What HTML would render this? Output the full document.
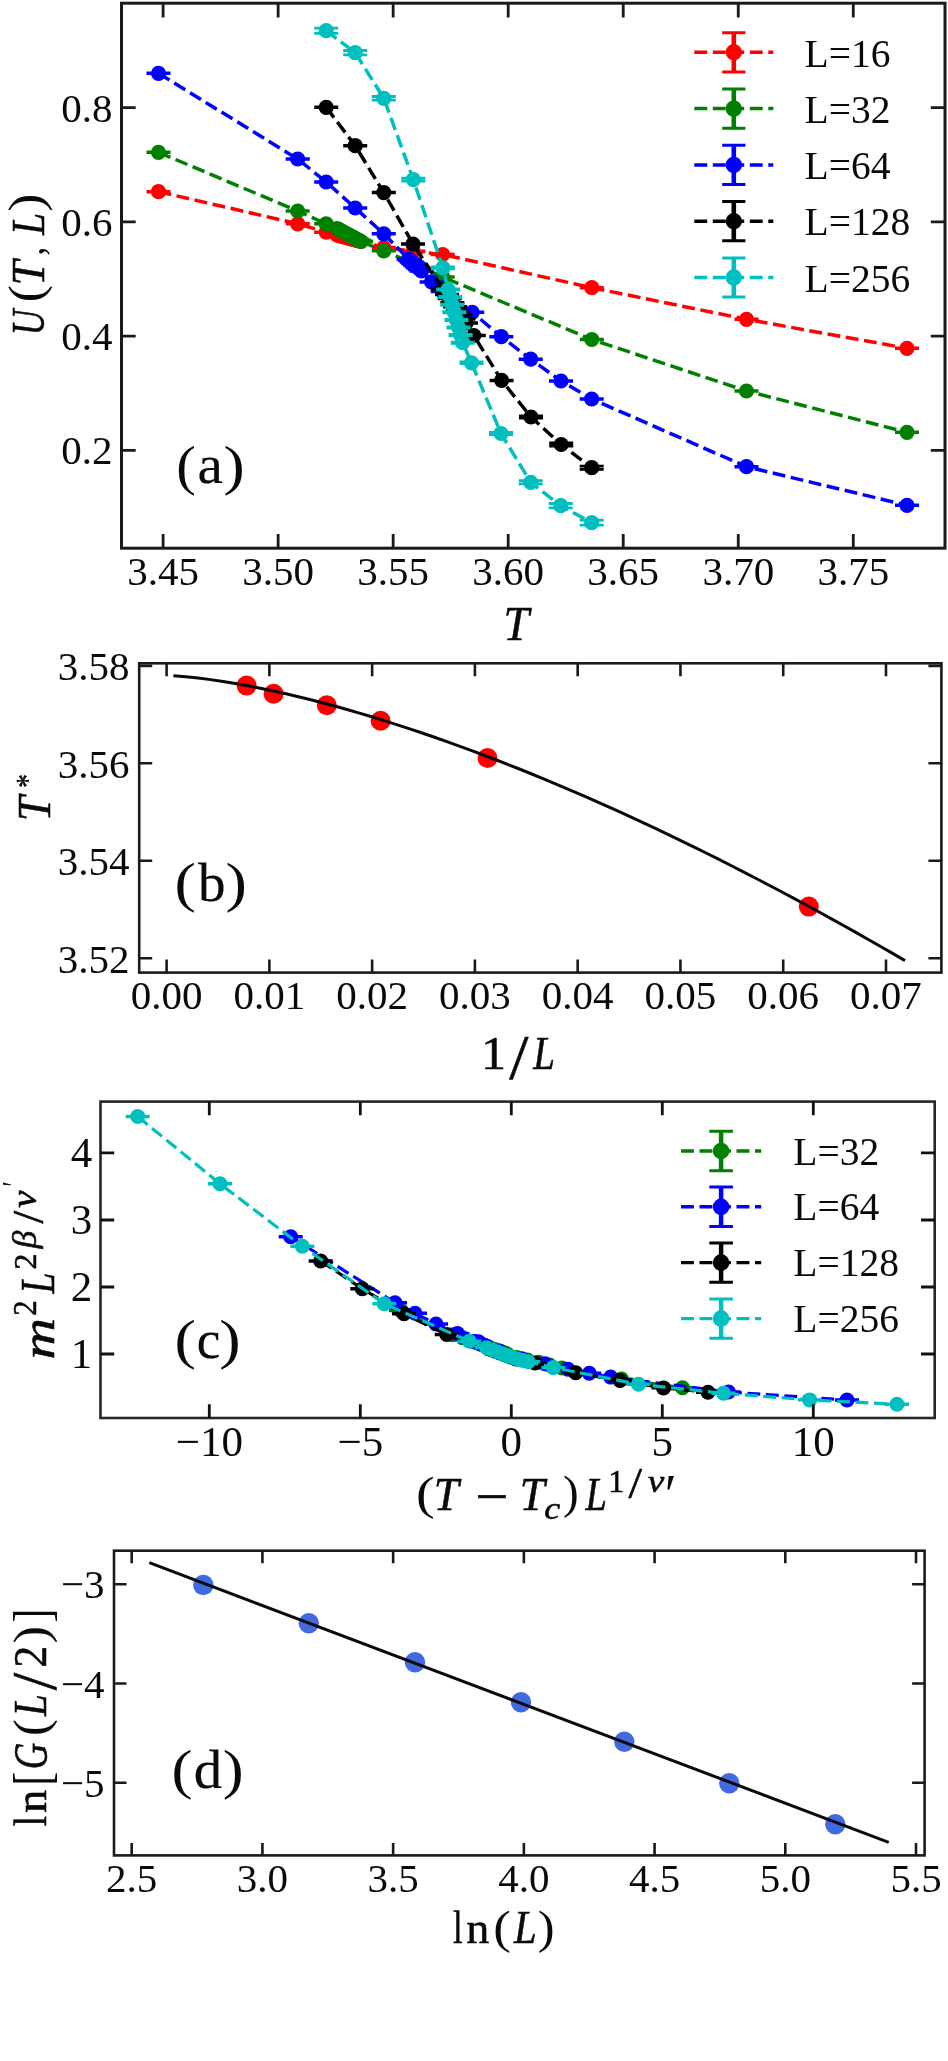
<!DOCTYPE html>
<html><head><meta charset="utf-8"><title>Figure</title>
<style>html,body{margin:0;padding:0;background:#fff;}svg{display:block;filter:blur(0.62px);}text{font-family:"Liberation Serif", serif;fill:#0a0a0a;}</style></head><body>
<svg width="948" height="2061" viewBox="0 0 948 2061">
<rect x="0" y="0" width="948" height="2061" fill="#ffffff"/>
<g id="pa">
<path d="M158.5 191.7L297.7 223.8L326.2 232.2L337 235L339.18 235.59L341.36 236.18L343.55 236.77L345.73 237.36L347.91 237.95L350.09 238.55L352.27 239.14L354.45 239.73L356.64 240.32L358.82 240.91L361 241.5L383.8 247.5L413.3 251.3L442.7 254.5L591.8 287.7L746.5 319.3L907 348.3" fill="none" stroke="#ff0000" stroke-width="3.5" stroke-dasharray="12.9 5.6"/>
<path d="M146.5 191.35H170.5M146.5 192.05H170.5M285.7 223.45H309.7M285.7 224.15H309.7M314.2 231.85H338.2M314.2 232.55H338.2M325 234.65H349M325 235.35H349M327.18 235.24H351.18M327.18 235.94H351.18M329.36 235.83H353.36M329.36 236.53H353.36M331.55 236.42H355.55M331.55 237.12H355.55M333.73 237.01H357.73M333.73 237.71H357.73M335.91 237.6H359.91M335.91 238.3H359.91M338.09 238.2H362.09M338.09 238.9H362.09M340.27 238.79H364.27M340.27 239.49H364.27M342.45 239.38H366.45M342.45 240.08H366.45M344.64 239.97H368.64M344.64 240.67H368.64M346.82 240.56H370.82M346.82 241.26H370.82M349 241.15H373M349 241.85H373M371.8 247.15H395.8M371.8 247.85H395.8M401.3 250.95H425.3M401.3 251.65H425.3M430.7 254.15H454.7M430.7 254.85H454.7M579.8 287.35H603.8M579.8 288.05H603.8M734.5 318.95H758.5M734.5 319.65H758.5M895 347.95H919M895 348.65H919" fill="none" stroke="#ff0000" stroke-width="2.8"/>
<g fill="#ff0000"><circle cx="158.5" cy="191.7" r="7.6"/><circle cx="297.7" cy="223.8" r="7.6"/><circle cx="326.2" cy="232.2" r="7.6"/><circle cx="337" cy="235" r="7.6"/><circle cx="339.18" cy="235.59" r="7.6"/><circle cx="341.36" cy="236.18" r="7.6"/><circle cx="343.55" cy="236.77" r="7.6"/><circle cx="345.73" cy="237.36" r="7.6"/><circle cx="347.91" cy="237.95" r="7.6"/><circle cx="350.09" cy="238.55" r="7.6"/><circle cx="352.27" cy="239.14" r="7.6"/><circle cx="354.45" cy="239.73" r="7.6"/><circle cx="356.64" cy="240.32" r="7.6"/><circle cx="358.82" cy="240.91" r="7.6"/><circle cx="361" cy="241.5" r="7.6"/><circle cx="383.8" cy="247.5" r="7.6"/><circle cx="413.3" cy="251.3" r="7.6"/><circle cx="442.7" cy="254.5" r="7.6"/><circle cx="591.8" cy="287.7" r="7.6"/><circle cx="746.5" cy="319.3" r="7.6"/><circle cx="907" cy="348.3" r="7.6"/></g>
<path d="M158.5 152.3L297.7 211L326.2 223.8L337 228.5L339.18 229.68L341.36 230.86L343.55 232.05L345.73 233.23L347.91 234.41L350.09 235.59L352.27 236.77L354.45 237.95L356.64 239.14L358.82 240.32L361 241.5L383.8 250.8L413.3 263.5L442.7 277L591.8 339.5L746.5 391L907 432.3" fill="none" stroke="#008000" stroke-width="3.5" stroke-dasharray="12.9 5.6"/>
<path d="M146.5 151.95H170.5M146.5 152.65H170.5M285.7 210.65H309.7M285.7 211.35H309.7M314.2 223.45H338.2M314.2 224.15H338.2M325 228.15H349M325 228.85H349M327.18 229.33H351.18M327.18 230.03H351.18M329.36 230.51H353.36M329.36 231.21H353.36M331.55 231.7H355.55M331.55 232.4H355.55M333.73 232.88H357.73M333.73 233.58H357.73M335.91 234.06H359.91M335.91 234.76H359.91M338.09 235.24H362.09M338.09 235.94H362.09M340.27 236.42H364.27M340.27 237.12H364.27M342.45 237.6H366.45M342.45 238.3H366.45M344.64 238.79H368.64M344.64 239.49H368.64M346.82 239.97H370.82M346.82 240.67H370.82M349 241.15H373M349 241.85H373M371.8 250.45H395.8M371.8 251.15H395.8M401.3 263.15H425.3M401.3 263.85H425.3M430.7 276.65H454.7M430.7 277.35H454.7M579.8 339.15H603.8M579.8 339.85H603.8M734.5 390.65H758.5M734.5 391.35H758.5M895 431.95H919M895 432.65H919" fill="none" stroke="#008000" stroke-width="2.8"/>
<g fill="#008000"><circle cx="158.5" cy="152.3" r="7.6"/><circle cx="297.7" cy="211" r="7.6"/><circle cx="326.2" cy="223.8" r="7.6"/><circle cx="337" cy="228.5" r="7.6"/><circle cx="339.18" cy="229.68" r="7.6"/><circle cx="341.36" cy="230.86" r="7.6"/><circle cx="343.55" cy="232.05" r="7.6"/><circle cx="345.73" cy="233.23" r="7.6"/><circle cx="347.91" cy="234.41" r="7.6"/><circle cx="350.09" cy="235.59" r="7.6"/><circle cx="352.27" cy="236.77" r="7.6"/><circle cx="354.45" cy="237.95" r="7.6"/><circle cx="356.64" cy="239.14" r="7.6"/><circle cx="358.82" cy="240.32" r="7.6"/><circle cx="361" cy="241.5" r="7.6"/><circle cx="383.8" cy="250.8" r="7.6"/><circle cx="413.3" cy="263.5" r="7.6"/><circle cx="442.7" cy="277" r="7.6"/><circle cx="591.8" cy="339.5" r="7.6"/><circle cx="746.5" cy="391" r="7.6"/><circle cx="907" cy="432.3" r="7.6"/></g>
<path d="M158.5 73.3L297.7 159L326.2 182L355.2 208L383.8 233.8L408.5 259L410.12 260.5L411.75 262L413.38 263.5L415 265L416.62 266.5L418.25 268L419.88 269.5L421.5 271L431.6 281.9L442.7 291.5L472.2 312.3L501.3 336.7L530.7 359.2L561 381L591.7 399L746.5 466.7L907 505.3" fill="none" stroke="#0000ff" stroke-width="3.5" stroke-dasharray="12.9 5.6"/>
<path d="M146.5 72.95H170.5M146.5 73.65H170.5M285.7 158.65H309.7M285.7 159.35H309.7M314.2 181.65H338.2M314.2 182.35H338.2M343.2 207.65H367.2M343.2 208.35H367.2M371.8 233.45H395.8M371.8 234.15H395.8M396.5 258.65H420.5M396.5 259.35H420.5M398.12 260.15H422.12M398.12 260.85H422.12M399.75 261.65H423.75M399.75 262.35H423.75M401.38 263.15H425.38M401.38 263.85H425.38M403 264.65H427M403 265.35H427M404.62 266.15H428.62M404.62 266.85H428.62M406.25 267.65H430.25M406.25 268.35H430.25M407.88 269.15H431.88M407.88 269.85H431.88M409.5 270.65H433.5M409.5 271.35H433.5M419.6 281.55H443.6M419.6 282.25H443.6M430.7 291.15H454.7M430.7 291.85H454.7M460.2 311.95H484.2M460.2 312.65H484.2M489.3 336.35H513.3M489.3 337.05H513.3M518.7 358.85H542.7M518.7 359.55H542.7M549 380.65H573M549 381.35H573M579.7 398.65H603.7M579.7 399.35H603.7M734.5 466.35H758.5M734.5 467.05H758.5M895 504.95H919M895 505.65H919" fill="none" stroke="#0000ff" stroke-width="2.8"/>
<g fill="#0000ff"><circle cx="158.5" cy="73.3" r="7.6"/><circle cx="297.7" cy="159" r="7.6"/><circle cx="326.2" cy="182" r="7.6"/><circle cx="355.2" cy="208" r="7.6"/><circle cx="383.8" cy="233.8" r="7.6"/><circle cx="408.5" cy="259" r="7.6"/><circle cx="410.12" cy="260.5" r="7.6"/><circle cx="411.75" cy="262" r="7.6"/><circle cx="413.38" cy="263.5" r="7.6"/><circle cx="415" cy="265" r="7.6"/><circle cx="416.62" cy="266.5" r="7.6"/><circle cx="418.25" cy="268" r="7.6"/><circle cx="419.88" cy="269.5" r="7.6"/><circle cx="421.5" cy="271" r="7.6"/><circle cx="431.6" cy="281.9" r="7.6"/><circle cx="442.7" cy="291.5" r="7.6"/><circle cx="472.2" cy="312.3" r="7.6"/><circle cx="501.3" cy="336.7" r="7.6"/><circle cx="530.7" cy="359.2" r="7.6"/><circle cx="561" cy="381" r="7.6"/><circle cx="591.7" cy="399" r="7.6"/><circle cx="746.5" cy="466.7" r="7.6"/><circle cx="907" cy="505.3" r="7.6"/></g>
<path d="M326.2 107.3L355.2 145.7L383.8 192.6L413 244L442.7 289L447 294.5L449.71 298.57L452.43 302.64L455.14 306.71L457.86 310.79L460.57 314.86L463.29 318.93L466 323L473.8 335.5L501.6 380.4L531 417L561.2 444.5L591.7 467.7" fill="none" stroke="#000000" stroke-width="3.5" stroke-dasharray="12.9 5.6"/>
<path d="M314.2 106.95H338.2M314.2 107.65H338.2M343.2 145.35H367.2M343.2 146.05H367.2M371.8 192.25H395.8M371.8 192.95H395.8M401 243.65H425M401 244.35H425M430.7 288.65H454.7M430.7 289.35H454.7M435 294.15H459M435 294.85H459M437.71 298.22H461.71M437.71 298.92H461.71M440.43 302.29H464.43M440.43 302.99H464.43M443.14 306.36H467.14M443.14 307.06H467.14M445.86 310.44H469.86M445.86 311.14H469.86M448.57 314.51H472.57M448.57 315.21H472.57M451.29 318.58H475.29M451.29 319.28H475.29M454 322.65H478M454 323.35H478M461.8 335.15H485.8M461.8 335.85H485.8M489.6 380.05H513.6M489.6 380.75H513.6M519 415.8H543M519 418.2H543M549.2 443H573.2M549.2 446H573.2M579.7 466.1H603.7M579.7 469.3H603.7" fill="none" stroke="#000000" stroke-width="2.8"/>
<g fill="#000000"><circle cx="326.2" cy="107.3" r="7.6"/><circle cx="355.2" cy="145.7" r="7.6"/><circle cx="383.8" cy="192.6" r="7.6"/><circle cx="413" cy="244" r="7.6"/><circle cx="442.7" cy="289" r="7.6"/><circle cx="447" cy="294.5" r="7.6"/><circle cx="449.71" cy="298.57" r="7.6"/><circle cx="452.43" cy="302.64" r="7.6"/><circle cx="455.14" cy="306.71" r="7.6"/><circle cx="457.86" cy="310.79" r="7.6"/><circle cx="460.57" cy="314.86" r="7.6"/><circle cx="463.29" cy="318.93" r="7.6"/><circle cx="466" cy="323" r="7.6"/><circle cx="473.8" cy="335.5" r="7.6"/><circle cx="501.6" cy="380.4" r="7.6"/><circle cx="531" cy="417" r="7.6"/><circle cx="561.2" cy="444.5" r="7.6"/><circle cx="591.7" cy="467.7" r="7.6"/></g>
<path d="M326.2 30.7L355.2 52.7L383.8 98.3L413.3 179.6L442.9 267.8L448.1 289.5L450.19 297.1L452.27 304.7L454.36 312.3L456.44 319.9L458.53 327.5L460.61 335.1L462.7 342.7L471.5 362.8L501 433.5L530.7 482.3L560.7 505.7L591.7 522.7" fill="none" stroke="#00bfbf" stroke-width="3.5" stroke-dasharray="12.9 5.6"/>
<path d="M314.2 28.1H338.2M314.2 33.3H338.2M343.2 50.5H367.2M343.2 54.9H367.2M371.8 96.5H395.8M371.8 100.1H395.8M401.3 178.1H425.3M401.3 181.1H425.3M430.9 266.8H454.9M430.9 268.8H454.9M436.1 288.9H460.1M436.1 290.1H460.1M438.19 296.5H462.19M438.19 297.7H462.19M440.27 304.1H464.27M440.27 305.3H464.27M442.36 311.7H466.36M442.36 312.9H466.36M444.44 319.3H468.44M444.44 320.5H468.44M446.53 326.9H470.53M446.53 328.1H470.53M448.61 334.5H472.61M448.61 335.7H472.61M450.7 342.1H474.7M450.7 343.3H474.7M459.5 362H483.5M459.5 363.6H483.5M489 432.5H513M489 434.5H513M518.7 480.7H542.7M518.7 483.9H542.7M548.7 503.5H572.7M548.7 507.9H572.7M579.7 520.2H603.7M579.7 525.2H603.7" fill="none" stroke="#00bfbf" stroke-width="2.8"/>
<g fill="#00bfbf"><circle cx="326.2" cy="30.7" r="7.6"/><circle cx="355.2" cy="52.7" r="7.6"/><circle cx="383.8" cy="98.3" r="7.6"/><circle cx="413.3" cy="179.6" r="7.6"/><circle cx="442.9" cy="267.8" r="7.6"/><circle cx="448.1" cy="289.5" r="7.6"/><circle cx="450.19" cy="297.1" r="7.6"/><circle cx="452.27" cy="304.7" r="7.6"/><circle cx="454.36" cy="312.3" r="7.6"/><circle cx="456.44" cy="319.9" r="7.6"/><circle cx="458.53" cy="327.5" r="7.6"/><circle cx="460.61" cy="335.1" r="7.6"/><circle cx="462.7" cy="342.7" r="7.6"/><circle cx="471.5" cy="362.8" r="7.6"/><circle cx="501" cy="433.5" r="7.6"/><circle cx="530.7" cy="482.3" r="7.6"/><circle cx="560.7" cy="505.7" r="7.6"/><circle cx="591.7" cy="522.7" r="7.6"/></g>
<rect x="121.5" y="3.2" width="823.5" height="545" fill="none" stroke="#1a1a1a" stroke-width="3"/>
<path d="M163.1 548.2V534M163.1 3.2V17.4M278.13 548.2V534M278.13 3.2V17.4M393.16 548.2V534M393.16 3.2V17.4M508.19 548.2V534M508.19 3.2V17.4M623.22 548.2V534M623.22 3.2V17.4M738.25 548.2V534M738.25 3.2V17.4M853.28 548.2V534M853.28 3.2V17.4M121.5 107.7H135.7M945 107.7H930.8M121.5 221.9H135.7M945 221.9H930.8M121.5 336.1H135.7M945 336.1H930.8M121.5 450.3H135.7M945 450.3H930.8" stroke="#1a1a1a" stroke-width="2.8" fill="none"/>
<text x="163.1" y="585" text-anchor="middle" style="font-size:41px;" >3.45</text>
<text x="278.13" y="585" text-anchor="middle" style="font-size:41px;" >3.50</text>
<text x="393.16" y="585" text-anchor="middle" style="font-size:41px;" >3.55</text>
<text x="508.19" y="585" text-anchor="middle" style="font-size:41px;" >3.60</text>
<text x="623.22" y="585" text-anchor="middle" style="font-size:41px;" >3.65</text>
<text x="738.25" y="585" text-anchor="middle" style="font-size:41px;" >3.70</text>
<text x="853.28" y="585" text-anchor="middle" style="font-size:41px;" >3.75</text>
<text x="112.5" y="121.7" text-anchor="end" style="font-size:41px;" >0.8</text>
<text x="112.5" y="235.9" text-anchor="end" style="font-size:41px;" >0.6</text>
<text x="112.5" y="350.1" text-anchor="end" style="font-size:41px;" >0.4</text>
<text x="112.5" y="464.3" text-anchor="end" style="font-size:41px;" >0.2</text>
<path d="M694.3 52.3H773.3" stroke="#ff0000" stroke-width="3.5" stroke-dasharray="12.9 5.6" fill="none"/>
<path d="M733.8 32.7V71.9" stroke="#ff0000" stroke-width="4.6" fill="none"/>
<path d="M722.2 32.7H745.4M722.2 71.9H745.4" stroke="#ff0000" stroke-width="3.0" fill="none"/>
<circle cx="733.8" cy="52.3" r="8.2" fill="#ff0000"/>
<text x="804.5" y="66.5" text-anchor="start" style="font-size:39.5px;" >L=16</text>
<path d="M694.3 108.6H773.3" stroke="#008000" stroke-width="3.5" stroke-dasharray="12.9 5.6" fill="none"/>
<path d="M733.8 89V128.2" stroke="#008000" stroke-width="4.6" fill="none"/>
<path d="M722.2 89H745.4M722.2 128.2H745.4" stroke="#008000" stroke-width="3.0" fill="none"/>
<circle cx="733.8" cy="108.6" r="8.2" fill="#008000"/>
<text x="804.5" y="122.8" text-anchor="start" style="font-size:39.5px;" >L=32</text>
<path d="M694.3 164.9H773.3" stroke="#0000ff" stroke-width="3.5" stroke-dasharray="12.9 5.6" fill="none"/>
<path d="M733.8 145.3V184.5" stroke="#0000ff" stroke-width="4.6" fill="none"/>
<path d="M722.2 145.3H745.4M722.2 184.5H745.4" stroke="#0000ff" stroke-width="3.0" fill="none"/>
<circle cx="733.8" cy="164.9" r="8.2" fill="#0000ff"/>
<text x="804.5" y="179.1" text-anchor="start" style="font-size:39.5px;" >L=64</text>
<path d="M694.3 221.2H773.3" stroke="#000000" stroke-width="3.5" stroke-dasharray="12.9 5.6" fill="none"/>
<path d="M733.8 201.6V240.8" stroke="#000000" stroke-width="4.6" fill="none"/>
<path d="M722.2 201.6H745.4M722.2 240.8H745.4" stroke="#000000" stroke-width="3.0" fill="none"/>
<circle cx="733.8" cy="221.2" r="8.2" fill="#000000"/>
<text x="804.5" y="235.4" text-anchor="start" style="font-size:39.5px;" >L=128</text>
<path d="M694.3 277.5H773.3" stroke="#00bfbf" stroke-width="3.5" stroke-dasharray="12.9 5.6" fill="none"/>
<path d="M733.8 257.9V297.1" stroke="#00bfbf" stroke-width="4.6" fill="none"/>
<path d="M722.2 257.9H745.4M722.2 297.1H745.4" stroke="#00bfbf" stroke-width="3.0" fill="none"/>
<circle cx="733.8" cy="277.5" r="8.2" fill="#00bfbf"/>
<text x="804.5" y="291.7" text-anchor="start" style="font-size:39.5px;" >L=256</text>
<text transform="translate(176.22,483.66) scale(1.0662,1)" style="font-size:55.14px;font-style:normal;stroke:#0a0a0a;stroke-width:0px;stroke-linejoin:round">(</text><text transform="translate(197.39,483.46) scale(1.0341,1)" style="font-size:55.32px;font-style:normal;stroke:#0a0a0a;stroke-width:0.2px;stroke-linejoin:round">a</text><text transform="translate(223.44,483.66) scale(1.1580,1)" style="font-size:55.14px;font-style:normal;stroke:#0a0a0a;stroke-width:0px;stroke-linejoin:round">)</text>
<text transform="translate(503.4,639.9) scale(0.9650,1)" style="font-size:47.50px;font-style:italic;stroke:#0a0a0a;stroke-width:0.55px;stroke-linejoin:round">T</text>
<g transform="translate(44.2,332.8) rotate(-90)"><text transform="translate(-2.55,-0.66) scale(0.7506,1)" style="font-size:47.10px;font-style:italic;stroke:#0a0a0a;stroke-width:0.55px;stroke-linejoin:round">U</text><text transform="translate(30.62,-2.27) scale(1.0844,1)" style="font-size:47.75px;font-style:normal;stroke:#0a0a0a;stroke-width:0px;stroke-linejoin:round">(</text><text transform="translate(47.37,-0.7) scale(0.9512,1)" style="font-size:47.04px;font-style:italic;stroke:#0a0a0a;stroke-width:0.55px;stroke-linejoin:round">T</text><text transform="translate(77.37,-1.25) scale(0.8460,1)" style="font-size:41.27px;font-style:normal;stroke:#0a0a0a;stroke-width:0px;stroke-linejoin:round">,</text><text transform="translate(97.77,-0.7) scale(0.8455,1)" style="font-size:47.04px;font-style:italic;stroke:#0a0a0a;stroke-width:0.55px;stroke-linejoin:round">L</text><text transform="translate(121.13,-2.27) scale(1.1496,1)" style="font-size:47.75px;font-style:normal;stroke:#0a0a0a;stroke-width:0px;stroke-linejoin:round">)</text></g>
</g>
<g id="pb">
<g fill="#ff0000"><circle cx="246.6" cy="685.6" r="10"/><circle cx="273.6" cy="693.7" r="10"/><circle cx="326.8" cy="705.3" r="10"/><circle cx="380.6" cy="720.8" r="10"/><circle cx="487.5" cy="758" r="10"/><circle cx="808.8" cy="906.6" r="10"/></g>
<path d="M173.38 675.83L185.78 676.75L198.18 678.04L210.58 679.62L222.98 681.46L235.38 683.51L247.78 685.76L260.19 688.19L272.59 690.79L284.99 693.56L297.39 696.47L309.79 699.53L322.19 702.73L334.59 706.07L346.99 709.52L359.39 713.11L371.79 716.81L384.19 720.63L396.59 724.56L408.99 728.6L421.39 732.75L433.79 737L446.19 741.35L458.59 745.81L470.99 750.36L483.39 755.01L495.79 759.75L508.19 764.58L520.59 769.5L532.99 774.51L545.39 779.61L557.79 784.79L570.19 790.06L582.59 795.42L594.99 800.85L607.39 806.36L619.79 811.96L632.2 817.63L644.6 823.38L657 829.21L669.4 835.11L681.8 841.09L694.2 847.14L706.6 853.27L719 859.46L731.4 865.73L743.8 872.07L756.2 878.48L768.6 884.96L781 891.5L793.4 898.12L805.8 904.8L818.2 911.55L830.6 918.36L843 925.24L855.4 932.18L867.8 939.19L880.2 946.26L892.6 953.39L905 960.59" fill="none" stroke="#0a0a0a" stroke-width="3"/>
<rect x="139.2" y="663.3" width="802.2" height="309.3" fill="none" stroke="#1a1a1a" stroke-width="2.6"/>
<path d="M166.6 972.6V959.6M166.6 663.3V676.3M269.37 972.6V959.6M269.37 663.3V676.3M372.14 972.6V959.6M372.14 663.3V676.3M474.91 972.6V959.6M474.91 663.3V676.3M577.68 972.6V959.6M577.68 663.3V676.3M680.45 972.6V959.6M680.45 663.3V676.3M783.22 972.6V959.6M783.22 663.3V676.3M885.99 972.6V959.6M885.99 663.3V676.3M139.2 665.85H152.2M941.4 665.85H928.4M139.2 763.3H152.2M941.4 763.3H928.4M139.2 860.75H152.2M941.4 860.75H928.4M139.2 958.2H152.2M941.4 958.2H928.4" stroke="#1a1a1a" stroke-width="2.6" fill="none"/>
<text x="166.6" y="1009.3" text-anchor="middle" style="font-size:41px;" >0.00</text>
<text x="269.37" y="1009.3" text-anchor="middle" style="font-size:41px;" >0.01</text>
<text x="372.14" y="1009.3" text-anchor="middle" style="font-size:41px;" >0.02</text>
<text x="474.91" y="1009.3" text-anchor="middle" style="font-size:41px;" >0.03</text>
<text x="577.68" y="1009.3" text-anchor="middle" style="font-size:41px;" >0.04</text>
<text x="680.45" y="1009.3" text-anchor="middle" style="font-size:41px;" >0.05</text>
<text x="783.22" y="1009.3" text-anchor="middle" style="font-size:41px;" >0.06</text>
<text x="885.99" y="1009.3" text-anchor="middle" style="font-size:41px;" >0.07</text>
<text x="129.5" y="680.35" text-anchor="end" style="font-size:41px;" >3.58</text>
<text x="129.5" y="777.8" text-anchor="end" style="font-size:41px;" >3.56</text>
<text x="129.5" y="875.25" text-anchor="end" style="font-size:41px;" >3.54</text>
<text x="129.5" y="972.7" text-anchor="end" style="font-size:41px;" >3.52</text>
<text transform="translate(174.58,901.25) scale(1.1744,1)" style="font-size:54.70px;font-style:normal;stroke:#0a0a0a;stroke-width:0px;stroke-linejoin:round">(</text><text transform="translate(198,901.17) scale(1.0128,1)" style="font-size:54.29px;font-style:normal;stroke:#0a0a0a;stroke-width:0.2px;stroke-linejoin:round">b</text><text transform="translate(225.43,901.25) scale(1.1744,1)" style="font-size:54.70px;font-style:normal;stroke:#0a0a0a;stroke-width:0px;stroke-linejoin:round">)</text>
<text transform="translate(481.11,1069.1) scale(1.0750,1)" style="font-size:46.50px;font-style:normal;stroke:#0a0a0a;stroke-width:0.55px;stroke-linejoin:round">1</text><text transform="translate(509.2,1078.58) scale(1.0903,1)" style="font-size:63.38px;font-style:normal;stroke:#0a0a0a;stroke-width:0.55px;stroke-linejoin:round">/</text><text transform="translate(533.36,1069.1) scale(0.8456,1)" style="font-size:46.12px;font-style:italic;stroke:#0a0a0a;stroke-width:0.55px;stroke-linejoin:round">L</text>
<g transform="translate(50.7,819.1) rotate(-90)"><text transform="translate(-2.26,-0.7) scale(0.9566,1)" style="font-size:47.34px;font-style:italic;stroke:#0a0a0a;stroke-width:0.55px;stroke-linejoin:round">T</text><text transform="translate(31.27,-12.95) scale(0.8404,1)" style="font-size:32.45px;font-style:normal;stroke:#0a0a0a;stroke-width:0.55px;stroke-linejoin:round">*</text></g>
</g>
<g id="pc">
<path d="M401 1310.61L452.6 1334.63L463 1337.85L473.6 1341.41L484.2 1345.37L495 1349.42L498 1350.54L501 1351.67L504 1352.79L507 1353.92L505.7 1353.43L516.5 1357.42L527.5 1360.1L538.5 1362.17L549.6 1365.07L562 1367.96L621.5 1379.12L682.5 1387.8" fill="none" stroke="#008000" stroke-width="3.2" stroke-dasharray="12.9 5.6"/>
<path d="M389 1310.26H413M389 1310.96H413M440.6 1334.28H464.6M440.6 1334.98H464.6M451 1337.5H475M451 1338.2H475M461.6 1341.06H485.6M461.6 1341.76H485.6M472.2 1345.02H496.2M472.2 1345.72H496.2M483 1349.07H507M483 1349.77H507M486 1350.19H510M486 1350.89H510M489 1351.32H513M489 1352.02H513M492 1352.44H516M492 1353.14H516M495 1353.57H519M495 1354.27H519M493.7 1353.08H517.7M493.7 1353.78H517.7M504.5 1357.07H528.5M504.5 1357.77H528.5M515.5 1359.75H539.5M515.5 1360.45H539.5M526.5 1361.83H550.5M526.5 1362.52H550.5M537.6 1364.72H561.6M537.6 1365.42H561.6M550 1367.61H574M550 1368.31H574M609.5 1378.77H633.5M609.5 1379.47H633.5M670.5 1387.45H694.5M670.5 1388.15H694.5" fill="none" stroke="#008000" stroke-width="2.7"/>
<g fill="#008000"><circle cx="401" cy="1310.61" r="7.5"/><circle cx="452.6" cy="1334.63" r="7.5"/><circle cx="463" cy="1337.85" r="7.5"/><circle cx="473.6" cy="1341.41" r="7.5"/><circle cx="484.2" cy="1345.37" r="7.5"/><circle cx="495" cy="1349.42" r="7.5"/><circle cx="498" cy="1350.54" r="7.5"/><circle cx="501" cy="1351.67" r="7.5"/><circle cx="504" cy="1352.79" r="7.5"/><circle cx="507" cy="1353.92" r="7.5"/><circle cx="505.7" cy="1353.43" r="7.5"/><circle cx="516.5" cy="1357.42" r="7.5"/><circle cx="527.5" cy="1360.1" r="7.5"/><circle cx="538.5" cy="1362.17" r="7.5"/><circle cx="549.6" cy="1365.07" r="7.5"/><circle cx="562" cy="1367.96" r="7.5"/><circle cx="621.5" cy="1379.12" r="7.5"/><circle cx="682.5" cy="1387.8" r="7.5"/></g>
<path d="M290.7 1236.7L395 1302.7L415 1313.3L436 1324L457.5 1333.6L478.5 1341.8L474 1341.56L476 1342.3L478 1343.05L480 1343.8L482 1344.54L484 1345.29L486 1346.04L488 1346.79L500 1351.29L522 1358.76L545 1363.8L568 1369.24L589.3 1373.3L610.7 1377.1L728.5 1392L847 1400" fill="none" stroke="#0000ff" stroke-width="3.2" stroke-dasharray="12.9 5.6"/>
<path d="M278.7 1236.35H302.7M278.7 1237.05H302.7M383 1302.35H407M383 1303.05H407M403 1312.95H427M403 1313.65H427M424 1323.65H448M424 1324.35H448M445.5 1333.25H469.5M445.5 1333.95H469.5M466.5 1341.45H490.5M466.5 1342.15H490.5M462 1341.21H486M462 1341.91H486M464 1341.95H488M464 1342.65H488M466 1342.7H490M466 1343.4H490M468 1343.45H492M468 1344.15H492M470 1344.19H494M470 1344.89H494M472 1344.94H496M472 1345.64H496M474 1345.69H498M474 1346.39H498M476 1346.44H500M476 1347.14H500M488 1350.94H512M488 1351.64H512M510 1358.41H534M510 1359.11H534M533 1363.45H557M533 1364.15H557M556 1368.89H580M556 1369.59H580M577.3 1372.95H601.3M577.3 1373.65H601.3M598.7 1376.75H622.7M598.7 1377.45H622.7M716.5 1391.65H740.5M716.5 1392.35H740.5M835 1399.65H859M835 1400.35H859" fill="none" stroke="#0000ff" stroke-width="2.7"/>
<g fill="#0000ff"><circle cx="290.7" cy="1236.7" r="7.5"/><circle cx="395" cy="1302.7" r="7.5"/><circle cx="415" cy="1313.3" r="7.5"/><circle cx="436" cy="1324" r="7.5"/><circle cx="457.5" cy="1333.6" r="7.5"/><circle cx="478.5" cy="1341.8" r="7.5"/><circle cx="474" cy="1341.56" r="7.5"/><circle cx="476" cy="1342.3" r="7.5"/><circle cx="478" cy="1343.05" r="7.5"/><circle cx="480" cy="1343.8" r="7.5"/><circle cx="482" cy="1344.54" r="7.5"/><circle cx="484" cy="1345.29" r="7.5"/><circle cx="486" cy="1346.04" r="7.5"/><circle cx="488" cy="1346.79" r="7.5"/><circle cx="500" cy="1351.29" r="7.5"/><circle cx="522" cy="1358.76" r="7.5"/><circle cx="545" cy="1363.8" r="7.5"/><circle cx="568" cy="1369.24" r="7.5"/><circle cx="589.3" cy="1373.3" r="7.5"/><circle cx="610.7" cy="1377.1" r="7.5"/><circle cx="728.5" cy="1392" r="7.5"/><circle cx="847" cy="1400" r="7.5"/></g>
<path d="M320.7 1261L362.3 1288.8L404 1313.8L446.7 1334.5L489 1348.86L492 1349.99L496 1351.49L500 1352.99L504 1354.49L508 1356L512 1357.5L516 1359L535 1363L575.7 1372.8L620 1380.5L663.5 1387.9L708 1392.2" fill="none" stroke="#000000" stroke-width="3.2" stroke-dasharray="12.9 5.6"/>
<path d="M308.7 1260.65H332.7M308.7 1261.35H332.7M350.3 1288.45H374.3M350.3 1289.15H374.3M392 1313.45H416M392 1314.15H416M434.7 1334.15H458.7M434.7 1334.85H458.7M477 1348.51H501M477 1349.21H501M480 1349.64H504M480 1350.34H504M484 1351.14H508M484 1351.84H508M488 1352.64H512M488 1353.34H512M492 1354.14H516M492 1354.84H516M496 1355.65H520M496 1356.35H520M500 1357.15H524M500 1357.85H524M504 1358.65H528M504 1359.35H528M523 1362.65H547M523 1363.35H547M563.7 1372.45H587.7M563.7 1373.15H587.7M608 1380.15H632M608 1380.85H632M651.5 1387.55H675.5M651.5 1388.25H675.5M696 1391.85H720M696 1392.55H720" fill="none" stroke="#000000" stroke-width="2.7"/>
<g fill="#000000"><circle cx="320.7" cy="1261" r="7.5"/><circle cx="362.3" cy="1288.8" r="7.5"/><circle cx="404" cy="1313.8" r="7.5"/><circle cx="446.7" cy="1334.5" r="7.5"/><circle cx="489" cy="1348.86" r="7.5"/><circle cx="492" cy="1349.99" r="7.5"/><circle cx="496" cy="1351.49" r="7.5"/><circle cx="500" cy="1352.99" r="7.5"/><circle cx="504" cy="1354.49" r="7.5"/><circle cx="508" cy="1356" r="7.5"/><circle cx="512" cy="1357.5" r="7.5"/><circle cx="516" cy="1359" r="7.5"/><circle cx="535" cy="1363" r="7.5"/><circle cx="575.7" cy="1372.8" r="7.5"/><circle cx="620" cy="1380.5" r="7.5"/><circle cx="663.5" cy="1387.9" r="7.5"/><circle cx="708" cy="1392.2" r="7.5"/></g>
<path d="M137.7 1116.5L220 1183.8L302.3 1246.3L384.3 1303.8L469.3 1341.3L486.7 1347.8L491.9 1349.75L497.1 1351.7L502.3 1353.66L507.5 1355.61L512.7 1357.56L517.9 1359.26L523.1 1360.53L528.3 1361.8L553.3 1367.6L638.5 1384.3L723.5 1393.3L809.7 1399.9L897 1404.3" fill="none" stroke="#00bfbf" stroke-width="3.2" stroke-dasharray="12.9 5.6"/>
<path d="M125.7 1116.15H149.7M125.7 1116.85H149.7M208 1183.45H232M208 1184.15H232M290.3 1245.95H314.3M290.3 1246.65H314.3M372.3 1303.45H396.3M372.3 1304.15H396.3M457.3 1340.95H481.3M457.3 1341.65H481.3M474.7 1347.45H498.7M474.7 1348.15H498.7M479.9 1349.4H503.9M479.9 1350.1H503.9M485.1 1351.35H509.1M485.1 1352.05H509.1M490.3 1353.31H514.3M490.3 1354.01H514.3M495.5 1355.26H519.5M495.5 1355.96H519.5M500.7 1357.21H524.7M500.7 1357.91H524.7M505.9 1358.91H529.9M505.9 1359.61H529.9M511.1 1360.18H535.1M511.1 1360.88H535.1M516.3 1361.45H540.3M516.3 1362.15H540.3M541.3 1367.25H565.3M541.3 1367.95H565.3M626.5 1383.95H650.5M626.5 1384.65H650.5M711.5 1392.95H735.5M711.5 1393.65H735.5M797.7 1399.55H821.7M797.7 1400.25H821.7M885 1403.95H909M885 1404.65H909" fill="none" stroke="#00bfbf" stroke-width="2.7"/>
<g fill="#00bfbf"><circle cx="137.7" cy="1116.5" r="7.5"/><circle cx="220" cy="1183.8" r="7.5"/><circle cx="302.3" cy="1246.3" r="7.5"/><circle cx="384.3" cy="1303.8" r="7.5"/><circle cx="469.3" cy="1341.3" r="7.5"/><circle cx="486.7" cy="1347.8" r="7.5"/><circle cx="491.9" cy="1349.75" r="7.5"/><circle cx="497.1" cy="1351.7" r="7.5"/><circle cx="502.3" cy="1353.66" r="7.5"/><circle cx="507.5" cy="1355.61" r="7.5"/><circle cx="512.7" cy="1357.56" r="7.5"/><circle cx="517.9" cy="1359.26" r="7.5"/><circle cx="523.1" cy="1360.53" r="7.5"/><circle cx="528.3" cy="1361.8" r="7.5"/><circle cx="553.3" cy="1367.6" r="7.5"/><circle cx="638.5" cy="1384.3" r="7.5"/><circle cx="723.5" cy="1393.3" r="7.5"/><circle cx="809.7" cy="1399.9" r="7.5"/><circle cx="897" cy="1404.3" r="7.5"/></g>
<rect x="100.5" y="1101.6" width="834.2" height="316.4" fill="none" stroke="#262626" stroke-width="2.6"/>
<path d="M209.3 1418V1404.3M209.3 1101.6V1115.3M360.3 1418V1404.3M360.3 1101.6V1115.3M511.3 1418V1404.3M511.3 1101.6V1115.3M662.3 1418V1404.3M662.3 1101.6V1115.3M813.3 1418V1404.3M813.3 1101.6V1115.3M100.5 1152.9H114.2M934.7 1152.9H921M100.5 1220H114.2M934.7 1220H921M100.5 1287H114.2M934.7 1287H921M100.5 1354H114.2M934.7 1354H921" stroke="#111" stroke-width="2.8" fill="none"/>
<text x="209.3" y="1456" text-anchor="middle" style="font-size:43px;" >−10</text>
<text x="360.3" y="1456" text-anchor="middle" style="font-size:43px;" >−5</text>
<text x="511.3" y="1456" text-anchor="middle" style="font-size:43px;" >0</text>
<text x="662.3" y="1456" text-anchor="middle" style="font-size:43px;" >5</text>
<text x="813.3" y="1456" text-anchor="middle" style="font-size:43px;" >10</text>
<text x="92.3" y="1167.3" text-anchor="end" style="font-size:43px;" >4</text>
<text x="92.3" y="1234.4" text-anchor="end" style="font-size:43px;" >3</text>
<text x="92.3" y="1301.4" text-anchor="end" style="font-size:43px;" >2</text>
<text x="92.3" y="1368.4" text-anchor="end" style="font-size:43px;" >1</text>
<path d="M681 1151H761.2" stroke="#008000" stroke-width="3.4" stroke-dasharray="12.9 5.6" fill="none"/>
<path d="M721.1 1131.3V1170.7" stroke="#008000" stroke-width="4.5" fill="none"/>
<path d="M709.3 1131.3H732.9M709.3 1170.7H732.9" stroke="#008000" stroke-width="3.0" fill="none"/>
<circle cx="721.1" cy="1151" r="8.3" fill="#008000"/>
<text x="793.3" y="1164.6" text-anchor="start" style="font-size:39.5px;" >L=32</text>
<path d="M681 1206.8H761.2" stroke="#0000ff" stroke-width="3.4" stroke-dasharray="12.9 5.6" fill="none"/>
<path d="M721.1 1187.1V1226.5" stroke="#0000ff" stroke-width="4.5" fill="none"/>
<path d="M709.3 1187.1H732.9M709.3 1226.5H732.9" stroke="#0000ff" stroke-width="3.0" fill="none"/>
<circle cx="721.1" cy="1206.8" r="8.3" fill="#0000ff"/>
<text x="793.3" y="1220.4" text-anchor="start" style="font-size:39.5px;" >L=64</text>
<path d="M681 1262.6H761.2" stroke="#000000" stroke-width="3.4" stroke-dasharray="12.9 5.6" fill="none"/>
<path d="M721.1 1242.9V1282.3" stroke="#000000" stroke-width="4.5" fill="none"/>
<path d="M709.3 1242.9H732.9M709.3 1282.3H732.9" stroke="#000000" stroke-width="3.0" fill="none"/>
<circle cx="721.1" cy="1262.6" r="8.3" fill="#000000"/>
<text x="793.3" y="1276.2" text-anchor="start" style="font-size:39.5px;" >L=128</text>
<path d="M681 1318.6H761.2" stroke="#00bfbf" stroke-width="3.4" stroke-dasharray="12.9 5.6" fill="none"/>
<path d="M721.1 1298.9V1338.3" stroke="#00bfbf" stroke-width="4.5" fill="none"/>
<path d="M709.3 1298.9H732.9M709.3 1338.3H732.9" stroke="#00bfbf" stroke-width="3.0" fill="none"/>
<circle cx="721.1" cy="1318.6" r="8.3" fill="#00bfbf"/>
<text x="793.3" y="1332.2" text-anchor="start" style="font-size:39.5px;" >L=256</text>
<text transform="translate(174.58,1358.16) scale(1.1650,1)" style="font-size:55.14px;font-style:normal;stroke:#0a0a0a;stroke-width:0px;stroke-linejoin:round">(</text><text transform="translate(196.68,1357.97) scale(0.9742,1)" style="font-size:54.47px;font-style:normal;stroke:#0a0a0a;stroke-width:0.2px;stroke-linejoin:round">c</text><text transform="translate(219.23,1358.16) scale(1.1650,1)" style="font-size:55.14px;font-style:normal;stroke:#0a0a0a;stroke-width:0px;stroke-linejoin:round">)</text>
<text transform="translate(415.94,1508.53) scale(1.1850,1)" style="font-size:47.31px;font-style:normal;stroke:#0a0a0a;stroke-width:0px;stroke-linejoin:round">(</text><text transform="translate(433.66,1509.9) scale(0.9740,1)" style="font-size:46.12px;font-style:italic;stroke:#0a0a0a;stroke-width:0.55px;stroke-linejoin:round">T</text><text transform="translate(475.6,1513.73) scale(1.1156,1)" style="font-size:52.20px;font-style:normal;stroke:#0a0a0a;stroke-width:0.55px;stroke-linejoin:round">−</text><text transform="translate(519.86,1509.9) scale(0.9740,1)" style="font-size:46.12px;font-style:italic;stroke:#0a0a0a;stroke-width:0.55px;stroke-linejoin:round">T</text><text transform="translate(544.29,1519.09) scale(1.1403,1)" style="font-size:31.60px;font-style:italic;stroke:#0a0a0a;stroke-width:0.55px;stroke-linejoin:round">c</text><text transform="translate(562.88,1507.92) scale(1.0147,1)" style="font-size:46.43px;font-style:normal;stroke:#0a0a0a;stroke-width:0px;stroke-linejoin:round">)</text><text transform="translate(585.45,1509.9) scale(0.8331,1)" style="font-size:46.12px;font-style:italic;stroke:#0a0a0a;stroke-width:0.55px;stroke-linejoin:round">L</text><text transform="translate(608.28,1491.7) scale(1.0236,1)" style="font-size:31.36px;font-style:normal;stroke:#0a0a0a;stroke-width:0.55px;stroke-linejoin:round">1</text><text transform="translate(628.5,1498.47) scale(1.1100,1)" style="font-size:44.10px;font-style:normal;stroke:#0a0a0a;stroke-width:0.55px;stroke-linejoin:round">/</text><text transform="translate(647.79,1492.18) scale(1.1470,1)" style="font-size:32.43px;font-style:italic;stroke:#0a0a0a;stroke-width:0.55px;stroke-linejoin:round">ν</text><text transform="translate(664.63,1513.62) scale(0.9345,1)" style="font-size:57.91px;font-style:normal;stroke:#0a0a0a;stroke-width:0px;stroke-linejoin:round">′</text>
<g transform="translate(54.9,1358.1) rotate(-90)"><text transform="translate(-1.38,-0.7) scale(1.2417,1)" style="font-size:46.27px;font-style:italic;stroke:#0a0a0a;stroke-width:0.55px;stroke-linejoin:round">m</text><text transform="translate(42.45,-18.7) scale(0.8949,1)" style="font-size:34.28px;font-style:normal;stroke:#0a0a0a;stroke-width:0.55px;stroke-linejoin:round">2</text><text transform="translate(64.54,-0.7) scale(0.7797,1)" style="font-size:47.80px;font-style:italic;stroke:#0a0a0a;stroke-width:0.55px;stroke-linejoin:round">L</text><text transform="translate(88.7,-18.7) scale(0.9925,1)" style="font-size:32.17px;font-style:normal;stroke:#0a0a0a;stroke-width:0.55px;stroke-linejoin:round">2</text><text transform="translate(109.68,-18.75) scale(1.0685,1)" style="font-size:33.59px;font-style:italic;stroke:#0a0a0a;stroke-width:0.55px;stroke-linejoin:round">β</text><text transform="translate(134.6,-12.04) scale(1.0171,1)" style="font-size:45.30px;font-style:normal;stroke:#0a0a0a;stroke-width:0.55px;stroke-linejoin:round">/</text><text transform="translate(150.16,-18.55) scale(1.1159,1)" style="font-size:35.41px;font-style:italic;stroke:#0a0a0a;stroke-width:0.55px;stroke-linejoin:round">ν</text><text transform="translate(171.71,-30.22) scale(0.7000,1)" style="font-size:34.49px;font-style:normal;stroke:#0a0a0a;stroke-width:0px;stroke-linejoin:round">′</text></g>
</g>
<g id="pd">
<g fill="#4169e1"><circle cx="203.3" cy="1585" r="10.2"/><circle cx="308.8" cy="1623.3" r="10.2"/><circle cx="415" cy="1662.3" r="10.2"/><circle cx="521" cy="1702.3" r="10.2"/><circle cx="624.3" cy="1741.7" r="10.2"/><circle cx="729.3" cy="1783.3" r="10.2"/><circle cx="835.3" cy="1824.3" r="10.2"/></g>
<path d="M149.3 1562.7L888.7 1842.3" stroke="#0a0a0a" stroke-width="3" fill="none"/>
<rect x="114" y="1550.7" width="810.6" height="304.7" fill="none" stroke="#1a1a1a" stroke-width="2.6"/>
<path d="M131.7 1855.4V1842.9M131.7 1550.7V1563.2M262.42 1855.4V1842.9M262.42 1550.7V1563.2M393.14 1855.4V1842.9M393.14 1550.7V1563.2M523.86 1855.4V1842.9M523.86 1550.7V1563.2M654.58 1855.4V1842.9M654.58 1550.7V1563.2M785.3 1855.4V1842.9M785.3 1550.7V1563.2M916.02 1855.4V1842.9M916.02 1550.7V1563.2M114 1584.2H126.5M924.6 1584.2H912.1M114 1683.5H126.5M924.6 1683.5H912.1M114 1782.7H126.5M924.6 1782.7H912.1" stroke="#1a1a1a" stroke-width="2.6" fill="none"/>
<text x="131.7" y="1891.7" text-anchor="middle" style="font-size:41px;" >2.5</text>
<text x="262.42" y="1891.7" text-anchor="middle" style="font-size:41px;" >3.0</text>
<text x="393.14" y="1891.7" text-anchor="middle" style="font-size:41px;" >3.5</text>
<text x="523.86" y="1891.7" text-anchor="middle" style="font-size:41px;" >4.0</text>
<text x="654.58" y="1891.7" text-anchor="middle" style="font-size:41px;" >4.5</text>
<text x="785.3" y="1891.7" text-anchor="middle" style="font-size:41px;" >5.0</text>
<text x="916.02" y="1891.7" text-anchor="middle" style="font-size:41px;" >5.5</text>
<text x="104.5" y="1598.4" text-anchor="end" style="font-size:41px;" >−3</text>
<text x="104.5" y="1697.7" text-anchor="end" style="font-size:41px;" >−4</text>
<text x="104.5" y="1796.9" text-anchor="end" style="font-size:41px;" >−5</text>
<text transform="translate(171.53,1788.25) scale(1.1531,1)" style="font-size:54.70px;font-style:normal;stroke:#0a0a0a;stroke-width:0px;stroke-linejoin:round">(</text><text transform="translate(193.65,1787.97) scale(1.0523,1)" style="font-size:53.86px;font-style:normal;stroke:#0a0a0a;stroke-width:0.2px;stroke-linejoin:round">d</text><text transform="translate(222.78,1788.25) scale(1.1460,1)" style="font-size:54.70px;font-style:normal;stroke:#0a0a0a;stroke-width:0px;stroke-linejoin:round">)</text>
<text transform="translate(453.01,1943) scale(0.7596,1)" style="font-size:45.40px;font-style:normal;stroke:#0a0a0a;stroke-width:0.55px;stroke-linejoin:round">l</text><text transform="translate(466.34,1943) scale(1.0201,1)" style="font-size:45.20px;font-style:normal;stroke:#0a0a0a;stroke-width:0.55px;stroke-linejoin:round">n</text><text transform="translate(493.27,1943.32) scale(1.1297,1)" style="font-size:46.87px;font-style:normal;stroke:#0a0a0a;stroke-width:0px;stroke-linejoin:round">(</text><text transform="translate(513.88,1943) scale(0.8890,1)" style="font-size:45.82px;font-style:italic;stroke:#0a0a0a;stroke-width:0.55px;stroke-linejoin:round">L</text><text transform="translate(537.77,1943.32) scale(1.0799,1)" style="font-size:46.87px;font-style:normal;stroke:#0a0a0a;stroke-width:0px;stroke-linejoin:round">)</text>
<g transform="translate(46.7,1826.1) rotate(-90)"><text transform="translate(-0.03,-0.7) scale(0.8008,1)" style="font-size:45.69px;font-style:normal;stroke:#0a0a0a;stroke-width:0.55px;stroke-linejoin:round">l</text><text transform="translate(13.03,-0.7) scale(1.0297,1)" style="font-size:45.20px;font-style:normal;stroke:#0a0a0a;stroke-width:0.55px;stroke-linejoin:round">n</text><text transform="translate(40.63,3.1) scale(0.7898,1)" style="font-size:52.32px;font-style:normal;stroke:#0a0a0a;stroke-width:0px;stroke-linejoin:round">[</text><text transform="translate(56.77,0.17) scale(0.7556,1)" style="font-size:48.59px;font-style:italic;stroke:#0a0a0a;stroke-width:0.55px;stroke-linejoin:round">G</text><text transform="translate(90.06,-0.07) scale(1.0681,1)" style="font-size:47.75px;font-style:normal;stroke:#0a0a0a;stroke-width:0px;stroke-linejoin:round">(</text><text transform="translate(110.06,-0.7) scale(0.8291,1)" style="font-size:47.04px;font-style:italic;stroke:#0a0a0a;stroke-width:0.55px;stroke-linejoin:round">L</text><text transform="translate(135.8,8.98) scale(1.0042,1)" style="font-size:63.08px;font-style:normal;stroke:#0a0a0a;stroke-width:0.55px;stroke-linejoin:round">/</text><text transform="translate(158.47,-0.7) scale(0.9438,1)" style="font-size:46.52px;font-style:normal;stroke:#0a0a0a;stroke-width:0.55px;stroke-linejoin:round">2</text><text transform="translate(182.69,-0.07) scale(1.1089,1)" style="font-size:47.75px;font-style:normal;stroke:#0a0a0a;stroke-width:0px;stroke-linejoin:round">)</text><text transform="translate(203.51,3.1) scale(0.7898,1)" style="font-size:52.32px;font-style:normal;stroke:#0a0a0a;stroke-width:0px;stroke-linejoin:round">]</text></g>
</g>
</svg></body></html>
